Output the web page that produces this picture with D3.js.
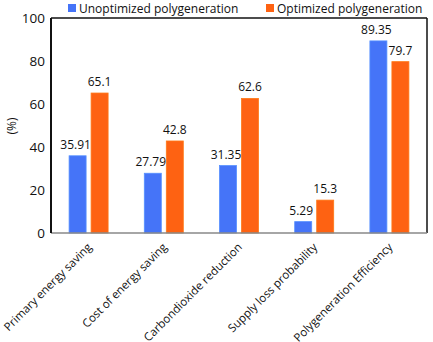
<!DOCTYPE html>
<html><head><meta charset="utf-8">
<script src="https://cdn.jsdelivr.net/npm/d3@7"></script>
<style>body{margin:0;background:#fff;} svg{display:block;font-family:"Open Sans",sans-serif;}</style>
</head><body>
<svg id="c" width="433" height="342"></svg>
<script>
const categories = ["Primary energy saving","Cost of energy saving","Carbondioxide reduction","Supply loss probability","Polygeneration Efficiency"];
const seriesNames = ["Unoptimized polygeneration","Optimized polygeneration"];
const unoptimized = [35.91, 27.79, 31.35, 5.29, 89.35];
const optimized = [65.1, 42.8, 62.6, 15.3, 79.7];
const valueLabels = [["35.91","27.79","31.35","5.29","89.35"],["65.1","42.8","62.6","15.3","79.7"]];
const yTicks = [0,20,40,60,80,100];
const colors = ["#4574F8","#FE6212"];

const svg = d3.select("#c");
const m = {l:51, r:6, t:18, b:109};
const W = 433, H = 342;
const x = d3.scaleBand().domain(categories).range([m.l, W-m.r]).padding(0);
const y = d3.scaleLinear().domain([0,100]).range([H-m.b, m.t]);
const barW = 17, gap = 5;
const series = [unoptimized, optimized];

const g = svg.append("g");
series.forEach((vals, si) => {
  g.selectAll(".b"+si).data(vals).enter().append("rect")
    .attr("x", (d,i) => x(categories[i]) + x.bandwidth()/2 + (si===0 ? -gap/2-barW : gap/2))
    .attr("y", d => y(d))
    .attr("width", barW)
    .attr("height", d => y(0)-y(d))
    .attr("fill", colors[si])
    .attr("stroke", d3.color(colors[si]).brighter(0.6))
    .attr("stroke-width", 0.8);
  g.selectAll(".l"+si).data(vals).enter().append("text")
    .attr("x", (d,i) => x(categories[i]) + x.bandwidth()/2 + (si===0 ? -gap/2-barW/2 - 2 : gap/2+barW/2))
    .attr("y", d => y(d) - 7)
    .attr("text-anchor","middle")
    .attr("font-size", 12)
    .attr("fill","#111")
    .text((d,i) => valueLabels[si][i]);
});

// frame
svg.append("line").attr("x1",m.l).attr("x2",W-m.r).attr("y1",m.t).attr("y2",m.t).attr("stroke","#111").attr("stroke-width",1.5);
svg.append("line").attr("x1",W-m.r).attr("x2",W-m.r).attr("y1",m.t).attr("y2",H-m.b).attr("stroke","#111").attr("stroke-width",1.5);
svg.append("line").attr("x1",m.l).attr("x2",W-m.r).attr("y1",H-m.b).attr("y2",H-m.b).attr("stroke","#888").attr("stroke-width",1.5);
svg.append("line").attr("x1",m.l).attr("x2",m.l).attr("y1",m.t).attr("y2",H-m.b).attr("stroke","#111").attr("stroke-width",2);

// y axis
const ya = svg.append("g").attr("transform",`translate(${m.l},0)`)
  .call(d3.axisLeft(y).tickValues(yTicks).tickSize(0).tickPadding(6));
ya.select(".domain").remove();
ya.selectAll("text").attr("font-size",13.5).attr("fill","#111").attr("font-family","'Open Sans',sans-serif");

// x axis labels
const xa = svg.append("g").attr("transform",`translate(0,${H-m.b})`)
  .call(d3.axisBottom(x).tickSize(0).tickPadding(0));
xa.select(".domain").remove();
xa.selectAll("text")
  .attr("font-size",11.5).attr("fill","#111").attr("font-family","'Open Sans',sans-serif")
  .attr("text-anchor","end")
  .attr("transform","translate(1,12) rotate(-45)")
  .attr("dy","0.35em");

// y label
svg.append("text").attr("transform",`translate(16,126) rotate(-90)`).attr("text-anchor","middle")
  .attr("font-size",12).attr("fill","#111").text("(%)");

// legend
const leg = [{x:68,t:seriesNames[0],c:colors[0]},{x:266,t:seriesNames[1],c:colors[1]}];
leg.forEach(l => {
  svg.append("rect").attr("x",l.x).attr("y",4).attr("width",8).attr("height",8).attr("fill",l.c);
  svg.append("text").attr("x",l.x+11).attr("y",13).attr("font-size",12).attr("fill","#111").text(l.t);
});
</script>
</body></html>
